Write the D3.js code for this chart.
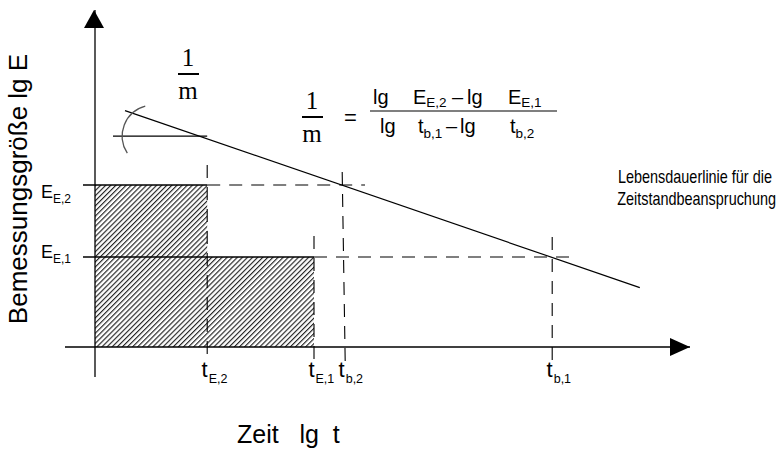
<!DOCTYPE html>
<html>
<head>
<meta charset="utf-8">
<script src="https://cdn.jsdelivr.net/npm/d3@7/dist/d3.min.js"></script>
<style>
  html, body { margin: 0; padding: 0; background: #fff; }
  svg { display: block; }
  text { font-family: "Liberation Sans", Arial, sans-serif; fill: #000; }
  text.serif { font-family: "Liberation Serif", "Times New Roman", serif; }
</style>
</head>
<body>
<div id="chart"></div>
<script>
// Log-time values (lg t) of the characteristic times
const timeKeys   = ["tE2", "tE1", "tb2", "tb1"];
const timeValues = [1.87, 3.65, 4.12, 7.62];
const timeSubs   = ["E,2", "E,1", "b,2", "b,1"];

// Log-stress values (lg E) of the two load levels
const loadKeys   = ["EE2", "EE1"];
const loadValues = [5.4, 3.0];
const loadSubs   = ["E,2", "E,1"];

// Lebensdauerlinie (lg t, lg E) end points
const lifeLineT = [0.5, 9.08];
const lifeLineE = [7.88, 1.98];

// Level of the horizontal reference line used for the slope 1/m
const slopeRefE = 7.03;

const W = 780, H = 450;
const svg = d3.select("#chart").append("svg")
  .attr("width", W).attr("height", H);

const x = d3.scaleLinear().domain([0, 10]).range([95, 695]);
const y = d3.scaleLinear().domain([0, 10]).range([347, 47]);

const T = Object.fromEntries(timeKeys.map((k, i) => [k, timeValues[i]]));
const E = Object.fromEntries(loadKeys.map((k, i) => [k, loadValues[i]]));

// hatch pattern for the damage areas
const defs = svg.append("defs");
const pat = defs.append("pattern")
  .attr("id", "hatch").attr("patternUnits", "userSpaceOnUse")
  .attr("width", 3.6).attr("height", 3.6)
  .attr("patternTransform", "rotate(45)");
pat.append("rect").attr("width", 3.6).attr("height", 3.6).attr("fill", "#fff");
pat.append("line").attr("x1", 0).attr("y1", 0).attr("x2", 0).attr("y2", 3.6)
  .attr("stroke", "#222").attr("stroke-width", 2.3);

// hatched areas: (0..tE2) at EE2 and (0..tE1) at EE1
const areas = [
  { t: T.tE2, e: E.EE2 },
  { t: T.tE1, e: E.EE1 }
];
svg.append("g").selectAll("rect").data(areas).join("rect")
  .attr("x", x(0))
  .attr("y", d => y(d.e))
  .attr("width", d => x(d.t) - x(0))
  .attr("height", d => y(0) - y(d.e))
  .attr("fill", "url(#hatch)");

const line = d3.line().x(d => x(d[0])).y(d => y(d[1]));
const dash = "13,9";

// solid load levels
svg.append("g").selectAll("path").data(areas).join("path")
  .attr("d", d => line([[-0.2, d.e], [d.t, d.e]]))
  .attr("stroke", "#000").attr("stroke-width", 1.3).attr("fill", "none");

// dashed projections onto the Lebensdauerlinie
const guides = [
  [[T.tE2, E.EE2], [4.5, E.EE2]],
  [[T.tE1, E.EE1], [7.95, E.EE1]],
  [[T.tE2, 6.07], [T.tE2, -0.5]],
  [[T.tE1, 3.7], [T.tE1, -0.5]],
  [[T.tb2, 5.83], [T.tb2 + 0.05, -0.5]],
  [[T.tb1, 3.67], [T.tb1, -0.5]]
];
svg.append("g").selectAll("path").data(guides).join("path")
  .attr("d", d => line(d))
  .attr("stroke", "#000").attr("stroke-width", 1.1)
  .attr("stroke-dasharray", dash).attr("fill", "none");

// Lebensdauerlinie
svg.append("path")
  .attr("d", line(lifeLineT.map((t, i) => [t, lifeLineE[i]])))
  .attr("stroke", "#000").attr("stroke-width", 1.2).attr("fill", "none");

// slope construction: horizontal reference and arc
svg.append("path")
  .attr("d", line([[0.3, slopeRefE], [T.tE2, slopeRefE]]))
  .attr("stroke", "#000").attr("stroke-width", 1.2).attr("fill", "none");
const arcPath = d3.path();
arcPath.arc(x(0.97), y(slopeRefE), 31, -1.83, 2.56, true);
svg.append("path").attr("d", arcPath.toString())
  .attr("stroke", "#555").attr("stroke-width", 1.3).attr("fill", "none");

// axes
const ax = svg.append("g");
ax.append("line").attr("x1", x(-0.5)).attr("x2", 690)
  .attr("y1", y(0)).attr("y2", y(0)).attr("stroke", "#000").attr("stroke-width", 1.3);
ax.append("line").attr("x1", x(0)).attr("x2", x(0))
  .attr("y1", y(-1)).attr("y2", 10).attr("stroke", "#000").attr("stroke-width", 1.3);
ax.append("path").attr("d", `M690,${y(0)} L670,${y(0) - 9} L670,${y(0) + 9} Z`).attr("fill", "#000");
ax.append("path").attr("d", `M${x(0) - 1},10 L${x(0) - 11},28 L${x(0) + 9},28 Z`).attr("fill", "#000");

// helper: main text with a subscript
function subText(g, px, py, main, sub, size, subSize, dy) {
  const t = g.append("text").attr("x", px).attr("y", py).attr("font-size", size);
  t.append("tspan").text(main);
  t.append("tspan").attr("font-size", subSize).attr("dy", dy).text(sub);
  return t;
}

// load level labels
const lab = svg.append("g");
loadKeys.forEach((k, i) => {
  subText(lab, 41, y(loadValues[i]) + (i === 0 ? 13 : 1), "E", loadSubs[i], 18, 12, 5);
});

// time labels: the "t" ends at the guide line, subscript to the right
timeKeys.forEach((k, i) => {
  const px = x(timeValues[i]) + (k === "tb2" ? 2 : 0);
  lab.append("text").attr("x", px + 0.5).attr("y", 377)
    .attr("font-size", 22).attr("text-anchor", "end").text("t");
  lab.append("text").attr("x", px + 1.5).attr("y", 383)
    .attr("font-size", 12.5).text(timeSubs[i]);
});

// axis titles
svg.append("text")
  .attr("transform", `translate(27,189) rotate(-90)`)
  .attr("text-anchor", "middle").attr("font-size", 26)
  .text("Bemessungsgröße lg E");
svg.append("text").attr("x", 237).attr("y", 443).attr("font-size", 25)
  .style("white-space", "pre")
  .text("Zeit   lg  t");

// curve label (narrow set)
const cl = svg.append("text").attr("font-size", 18.5)
  .attr("transform", "translate(618,0) scale(0.78,1)");
cl.append("tspan").attr("x", 0).attr("y", 183).text("Lebensdauerlinie für die");
cl.append("tspan").attr("x", -1).attr("y", 205).text("Zeitstandbeanspruchung");

// fraction 1/m (serif)
function frac(cx, top) {
  const g = svg.append("g");
  g.append("text").attr("class", "serif").attr("x", cx).attr("y", top + 17)
    .attr("text-anchor", "middle").attr("font-size", 25).text("1");
  g.append("line").attr("x1", cx - 10).attr("x2", cx + 11)
    .attr("y1", top + 25).attr("y2", top + 25)
    .attr("stroke", "#000").attr("stroke-width", 2);
  g.append("text").attr("class", "serif").attr("x", cx).attr("y", top + 50)
    .attr("text-anchor", "middle").attr("font-size", 25).text("m");
}
frac(188, 49);
frac(312, 92);

// formula right-hand side
const fm = svg.append("g");
const fs = 20, ss = 13.5;
fm.append("text").attr("x", 344).attr("y", 125).attr("font-size", 22).text("=");
fm.append("line").attr("x1", 370).attr("x2", 557).attr("y1", 111).attr("y2", 111)
  .attr("stroke", "#000").attr("stroke-width", 1.2);
// numerator
fm.append("text").attr("x", 373).attr("y", 104).attr("font-size", fs).text("lg");
subText(fm, 413, 104, "E", "E,2", fs, ss, 3);
fm.append("text").attr("x", 452).attr("y", 104).attr("font-size", fs).text("\u2013");
fm.append("text").attr("x", 467).attr("y", 104).attr("font-size", fs).text("lg");
subText(fm, 508, 104, "E", "E,1", fs, ss, 3);
// denominator
fm.append("text").attr("x", 380).attr("y", 133).attr("font-size", fs).text("lg");
subText(fm, 418, 133, "t", "b,1", fs, ss, 5);
fm.append("text").attr("x", 446).attr("y", 133).attr("font-size", fs).text("\u2013");
fm.append("text").attr("x", 460).attr("y", 133).attr("font-size", fs).text("lg");
subText(fm, 510, 133, "t", "b,2", fs, ss, 5);
</script>
</body>
</html>
